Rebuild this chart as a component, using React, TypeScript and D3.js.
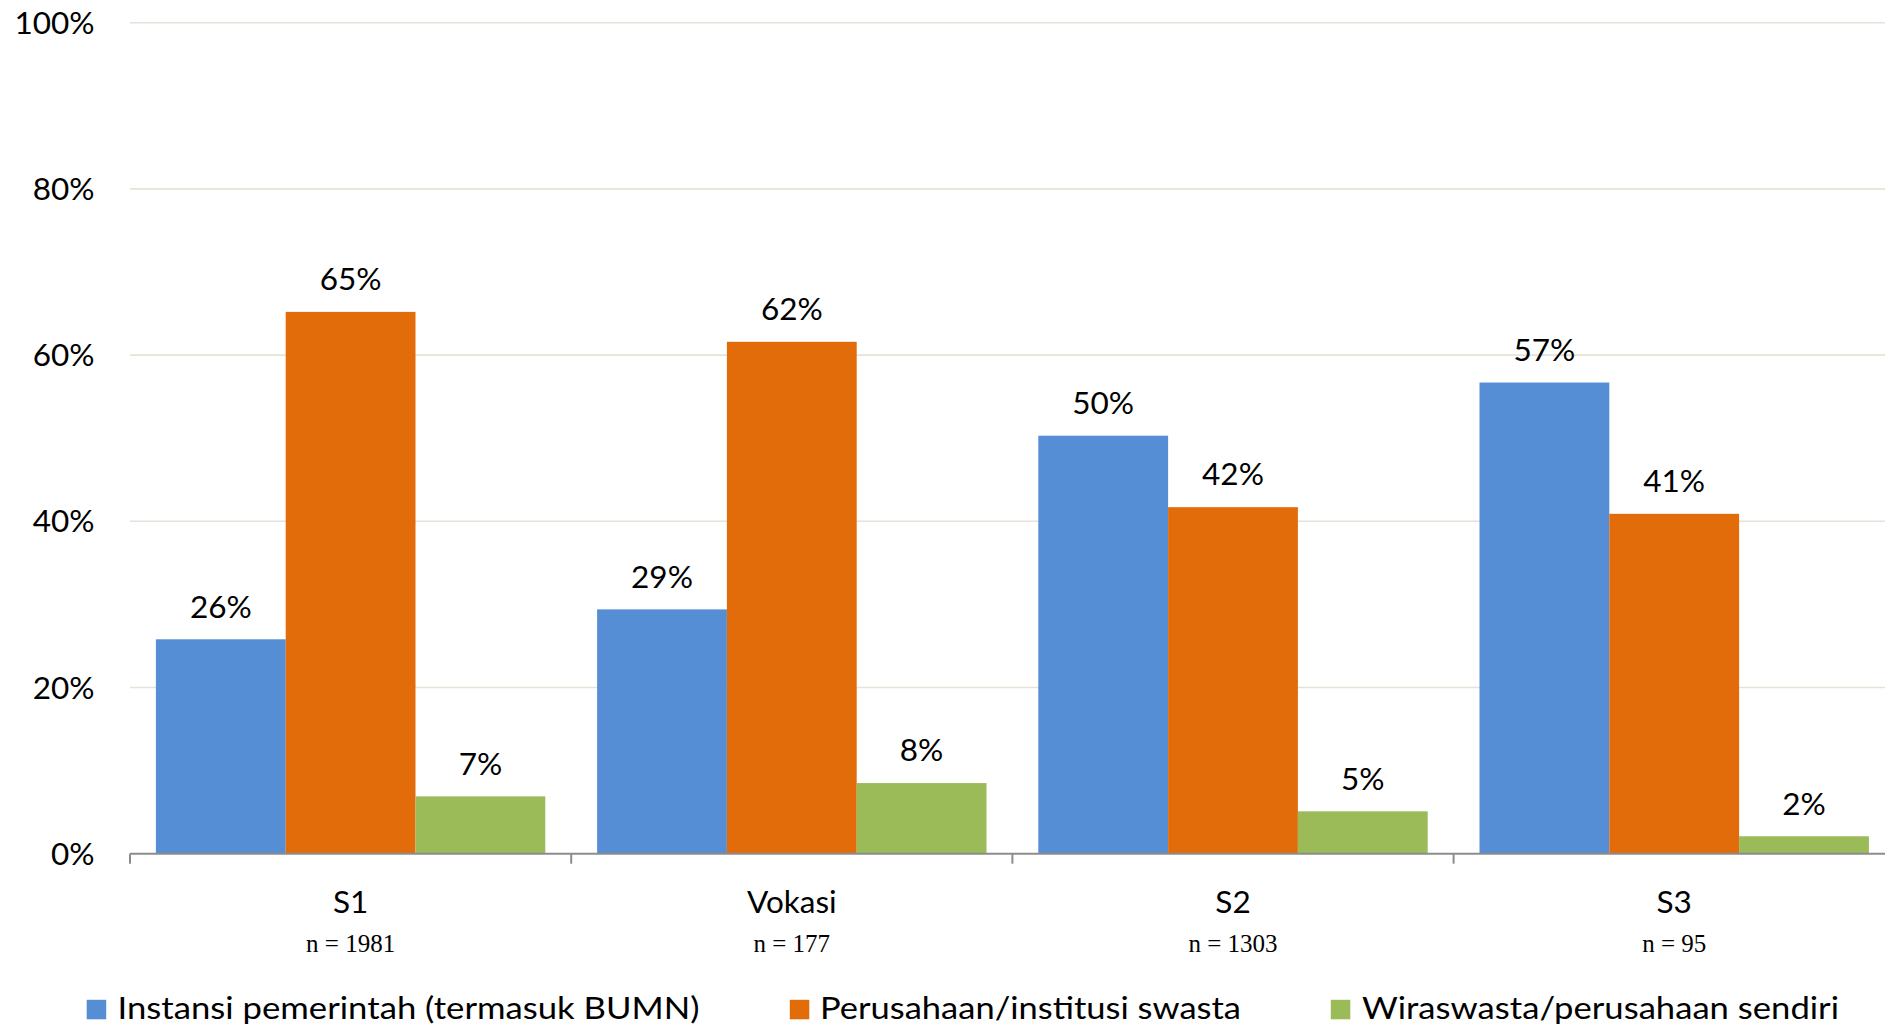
import React, { useEffect } from "react";
import * as d3 from "d3";

const categories = ["S1", "Vokasi", "S2", "S3"];
const sampleSizes = ["n = 1981", "n = 177", "n = 1303", "n = 95"];
const seriesNames = [
  "Instansi pemerintah (termasuk BUMN)",
  "Perusahaan/institusi swasta",
  "Wiraswasta/perusahaan sendiri",
];
const pemerintah = [25.8, 29.4, 50.3, 56.7];
const swasta = [65.2, 61.6, 41.7, 40.9];
const wiraswasta = [6.9, 8.5, 5.1, 2.1];
const dataLabels = [
  ["26%", "29%", "50%", "57%"],
  ["65%", "62%", "42%", "41%"],
  ["7%", "8%", "5%", "2%"],
];
const yTicks = [0, 20, 40, 60, 80, 100];
const colors = ["#558ED5", "#E36C0A", "#9BBB59"];

const W = 1885;
const H = 1029;
const plotLeft = 130;
const catWidth = 441.2;
const yTop = 22.7;
const yBottom = 853.7;

const legendItems = [
  { sq: 86.7, tx: 117.5, tw: 582 },
  { sq: 789.8, tx: 820, tw: 421 },
  { sq: 1330.8, tx: 1362, tw: 477 },
];

export default function App() {
  useEffect(() => {
    document.body.style.margin = "0";
    document.body.style.overflow = "hidden";
  }, []);

  const series = [pemerintah, swasta, wiraswasta];
  const x0 = d3
    .scaleBand<string>()
    .domain(categories)
    .range([plotLeft, plotLeft + catWidth * categories.length])
    .paddingInner(0)
    .paddingOuter(0);
  const x1 = d3
    .scaleBand<number>()
    .domain([0, 1, 2])
    .range([25.9, catWidth - 25.9])
    .padding(0);
  const y = d3.scaleLinear().domain([0, 100]).range([yBottom, yTop]);
  const font = "Lato, 'Open Sans', sans-serif";

  return (
    <svg
      width={W}
      height={H}
      style={{ position: "absolute", left: 0, top: 0, background: "#fff" }}
    >
      <rect x={0} y={0} width={W} height={H} fill="#fff" />
      {yTicks
        .filter((t) => t > 0)
        .map((t) => (
          <line
            key={"g" + t}
            x1={plotLeft}
            x2={W}
            y1={y(t)}
            y2={y(t)}
            stroke="#E6E2D8"
            strokeWidth={1.6}
          />
        ))}
      {yTicks.map((t) => (
        <text
          key={"yt" + t}
          x={94.5}
          y={y(t) + 11}
          textAnchor="end"
          fontFamily={font}
          fontSize={31.5}
          fill="#000"
        >
          {t + "%"}
        </text>
      ))}
      {categories.map((c, ci) =>
        series.map((s, si) => (
          <rect
            key={c + si}
            x={(x0(c) as number) + (x1(si) as number)}
            y={y(s[ci])}
            width={x1.bandwidth()}
            height={yBottom - y(s[ci])}
            fill={colors[si]}
          />
        ))
      )}
      {categories.map((c, ci) =>
        series.map((s, si) => (
          <text
            key={"l" + c + si}
            x={(x0(c) as number) + (x1(si) as number) + x1.bandwidth() / 2}
            y={y(s[ci]) - 21.7}
            textAnchor="middle"
            fontFamily={font}
            fontSize={31.5}
            fill="#000"
          >
            {dataLabels[si][ci]}
          </text>
        ))
      )}
      <line
        x1={plotLeft}
        x2={W}
        y1={yBottom}
        y2={yBottom}
        stroke="#8C8C8C"
        strokeWidth={2}
      />
      {categories.map((c) => (
        <line
          key={"tk" + c}
          x1={x0(c) as number}
          x2={x0(c) as number}
          y1={yBottom}
          y2={yBottom + 10}
          stroke="#8C8C8C"
          strokeWidth={2}
        />
      ))}
      {categories.map((c, ci) => (
        <g key={"cl" + c}>
          <text
            x={(x0(c) as number) + x0.bandwidth() / 2}
            y={913.3}
            textAnchor="middle"
            fontFamily={font}
            fontSize={31.5}
            fill="#000"
          >
            {c}
          </text>
          <text
            x={(x0(c) as number) + x0.bandwidth() / 2}
            y={952.3}
            textAnchor="middle"
            fontFamily="'Liberation Serif', 'DejaVu Serif', serif"
            fontSize={25}
            fill="#000"
          >
            {sampleSizes[ci]}
          </text>
        </g>
      ))}
      {seriesNames.map((n, i) => (
        <g key={"lg" + i}>
          <rect
            x={legendItems[i].sq}
            y={999.8}
            width={19.5}
            height={19.5}
            fill={colors[i]}
          />
          <text
            x={legendItems[i].tx}
            y={1019.3}
            fontFamily={font}
            fontSize={30.5}
            fill="#000"
            textLength={legendItems[i].tw}
            lengthAdjust="spacingAndGlyphs"
          >
            {n}
          </text>
        </g>
      ))}
    </svg>
  );
}
